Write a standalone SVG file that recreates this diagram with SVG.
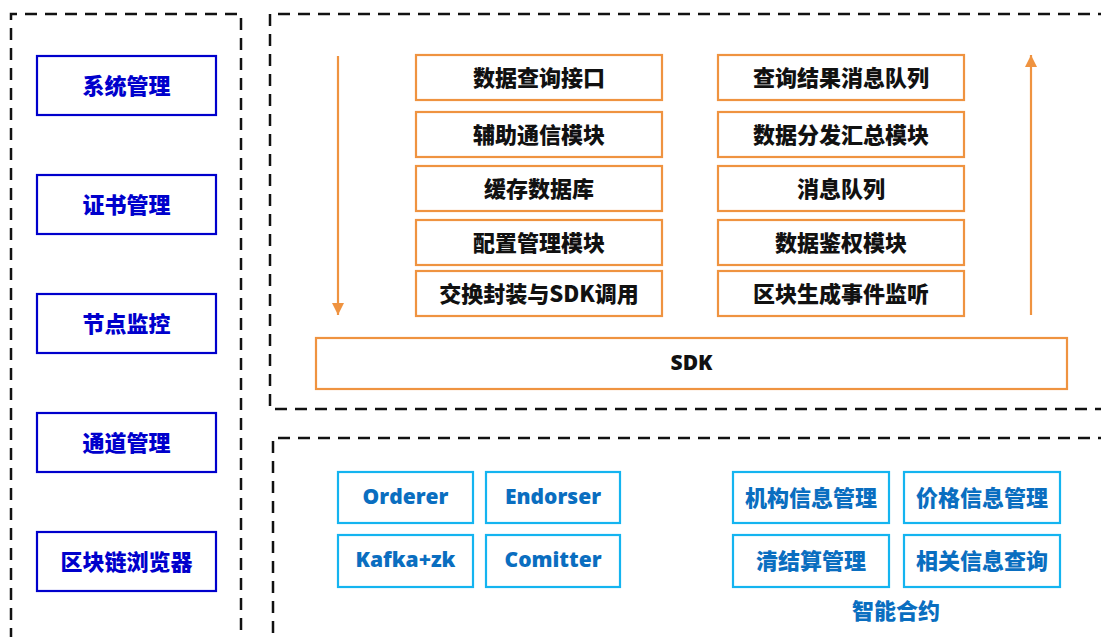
<svg xmlns="http://www.w3.org/2000/svg" width="1101" height="637" viewBox="0 0 1101 637">
<defs>
<style>
.dash{fill:none;stroke:#111;stroke-width:2.5;stroke-dasharray:12 8}
.nb rect{fill:#fff;stroke:#0000CC;stroke-width:2.2}
.nb text{fill:#0000CC}
.no rect{fill:#fff;stroke:#EF9340;stroke-width:2.2}
.no text{fill:#111}
.nc rect{fill:#fff;stroke:#14B4F0;stroke-width:2.2}
.nc text{fill:#0A6EC0}
text{font-family:"Noto Sans CJK SC","Open Sans","Noto Sans",sans-serif;font-weight:900;font-size:22px;text-anchor:middle;dominant-baseline:central}
.lat{font-family:"Open Sans","Noto Sans",sans-serif;font-weight:800;font-size:21px}
.arr{stroke:#EF9340;stroke-width:2.2;fill:none}
</style>
<marker id="ah" markerWidth="14" markerHeight="14" refX="12" refY="6" orient="auto" markerUnits="userSpaceOnUse">
<path d="M0,0 L12,6 L0,12 Z" fill="#EF9340"/>
</marker>
</defs>
<rect width="1101" height="637" fill="#fff"/>
<g id="frames">
<path class="dash" d="M11,640 V14 H241 V640"/>
<path class="dash" d="M1110,14 H270 V409 H1110"/>
<path class="dash" d="M1110,438 H273 V640"/>
</g>
<g id="n-sys" class="nb"><rect x="37" y="56" width="179" height="59"/><text x="126.5" y="83.5">系统管理</text></g>
<g id="n-cert" class="nb"><rect x="37" y="175" width="179" height="59"/><text x="126.5" y="202.5">证书管理</text></g>
<g id="n-mon" class="nb"><rect x="37" y="294" width="179" height="59"/><text x="126.5" y="321.5">节点监控</text></g>
<g id="n-chan" class="nb"><rect x="37" y="413" width="179" height="59"/><text x="126.5" y="440.5">通道管理</text></g>
<g id="n-exp" class="nb"><rect x="37" y="532" width="179" height="59"/><text x="126.5" y="559.5">区块链浏览器</text></g>

<g id="n-q" class="no"><rect x="416" y="55" width="246" height="45"/><text x="539" y="75.5">数据查询接口</text></g>
<g id="n-aux" class="no"><rect x="416" y="112" width="246" height="45"/><text x="539" y="132.5">辅助通信模块</text></g>
<g id="n-cache" class="no"><rect x="416" y="166" width="246" height="45"/><text x="539" y="186.5">缓存数据库</text></g>
<g id="n-conf" class="no"><rect x="416" y="220" width="246" height="45"/><text x="539" y="240.5">配置管理模块</text></g>
<g id="n-swap" class="no"><rect x="416" y="271" width="246" height="45"/><text x="539" y="291.5">交换封装与SDK调用</text></g>

<g id="n-res" class="no"><rect x="718" y="55" width="246" height="45"/><text x="841" y="75.5">查询结果消息队列</text></g>
<g id="n-dist" class="no"><rect x="718" y="112" width="246" height="45"/><text x="841" y="132.5">数据分发汇总模块</text></g>
<g id="n-mq" class="no"><rect x="718" y="166" width="246" height="45"/><text x="841" y="186.5">消息队列</text></g>
<g id="n-auth" class="no"><rect x="718" y="220" width="246" height="45"/><text x="841" y="240.5">数据鉴权模块</text></g>
<g id="n-evt" class="no"><rect x="718" y="271" width="246" height="45"/><text x="841" y="291.5">区块生成事件监听</text></g>

<g id="n-sdk" class="no"><rect x="316" y="338" width="751" height="51"/><text class="lat" x="691.5" y="362">SDK</text></g>

<g id="n-ord" class="nc"><rect x="338" y="472" width="135" height="51"/><text class="lat" x="405.5" y="496">Orderer</text></g>
<g id="n-end" class="nc"><rect x="486" y="472" width="134" height="51"/><text class="lat" x="553" y="496">Endorser</text></g>
<g id="n-kaf" class="nc"><rect x="338" y="535" width="135" height="52"/><text class="lat" x="405.5" y="559">Kafka+zk</text></g>
<g id="n-com" class="nc"><rect x="486" y="535" width="134" height="52"/><text class="lat" x="553" y="559">Comitter</text></g>

<g id="n-org" class="nc"><rect x="733" y="472" width="156" height="51"/><text x="811" y="495.5">机构信息管理</text></g>
<g id="n-price" class="nc"><rect x="904" y="472" width="156" height="51"/><text x="982" y="495.5">价格信息管理</text></g>
<g id="n-clr" class="nc"><rect x="733" y="535" width="156" height="52"/><text x="811" y="558.5">清结算管理</text></g>
<g id="n-rel" class="nc"><rect x="904" y="535" width="156" height="52"/><text x="982" y="558.5">相关信息查询</text></g>
<g id="lbl-sc"><text x="896" y="609" fill="#0A6EC0">智能合约</text></g>

<g id="connectors">
<line class="arr" x1="338" y1="56" x2="338" y2="315" marker-end="url(#ah)"/>
<line class="arr" x1="1031" y1="315" x2="1031" y2="55" marker-end="url(#ah)"/>
</g>
</svg>
